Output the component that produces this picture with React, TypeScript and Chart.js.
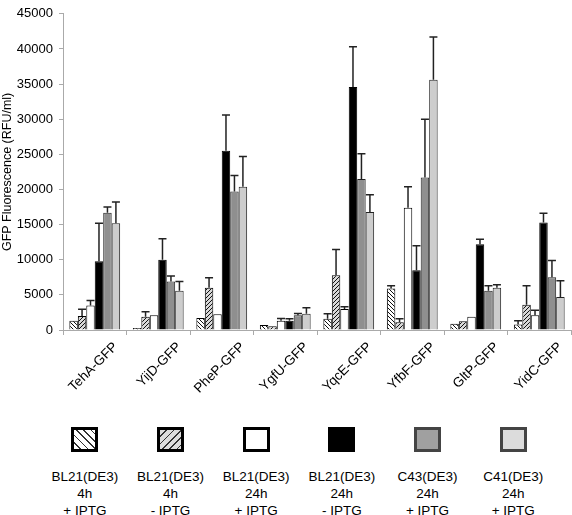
import React, { useEffect, useRef } from "react";
import { Chart, registerables } from "chart.js";

Chart.register(...registerables);

const FONT = '"Liberation Sans", Arial, Helvetica, sans-serif';

const categories = ["TehA-GFP", "YijD-GFP", "PheP-GFP", "YgfU-GFP", "YqcE-GFP", "YfbF-GFP", "GltP-GFP", "YidC-GFP"];

const seriesNames = [
  ["BL21(DE3)", "4h", "+ IPTG"],
  ["BL21(DE3)", "4h", "- IPTG"],
  ["BL21(DE3)", "24h", "+ IPTG"],
  ["BL21(DE3)", "24h", "- IPTG"],
  ["C43(DE3)", "24h", "+ IPTG"],
  ["C41(DE3)", "24h", "+ IPTG"],
];

const bl21_4h_plus = [1300, 300, 1700, 700, 1600, 5900, 900, 800];
const bl21_4h_minus = [2000, 1900, 6000, 550, 7800, 1100, 1250, 3600];
const bl21_24h_plus = [3500, 2100, 2250, 1300, 3000, 17400, 1900, 2100];
const bl21_24h_minus = [9800, 10000, 25500, 1300, 34600, 8500, 12200, 15300];
const c43_24h_plus = [16700, 6900, 19700, 2100, 21500, 21700, 5600, 7500];
const c41_24h_plus = [15200, 5600, 20400, 2300, 16800, 35600, 6000, 4700];

const err_bl21_4h_plus = [0, 0, 0, 0, 700, 400, 0, 500];
const err_bl21_4h_minus = [950, 700, 1450, 0, 3650, 500, 0, 2700];
const err_bl21_24h_plus = [700, 0, 0, 350, 300, 3000, 0, 700];
const err_bl21_24h_minus = [5400, 3000, 5100, 300, 5700, 3500, 700, 1300];
const err_c43_24h_plus = [800, 800, 2300, 250, 3600, 8300, 700, 2400];
const err_c41_24h_plus = [3000, 1300, 4300, 850, 2450, 6100, 450, 2300];

const yTicks = [0, 5000, 10000, 15000, 20000, 25000, 30000, 35000, 40000, 45000];

const seriesValues = [bl21_4h_plus, bl21_4h_minus, bl21_24h_plus, bl21_24h_minus, c43_24h_plus, c41_24h_plus];
const seriesErrors = [err_bl21_4h_plus, err_bl21_4h_minus, err_bl21_24h_plus, err_bl21_24h_minus, err_c43_24h_plus, err_c41_24h_plus];

function makePattern(bg: string, dir: "back" | "fwd"): CanvasPattern | string {
  const c = document.createElement("canvas");
  c.width = 4;
  c.height = 4;
  const x = c.getContext("2d");
  if (!x) return bg;
  x.fillStyle = bg;
  x.fillRect(0, 0, 4, 4);
  x.fillStyle = "#111";
  for (let i = 0; i < 4; i++) {
    const px = dir === "back" ? i : 3 - i;
    x.fillRect(px, i, 1, 1);
  }
  const p = x.createPattern(c, "repeat");
  return p || bg;
}

const legendBoxStyles: React.CSSProperties[] = [
  { background: "repeating-linear-gradient(45deg, #fff 0px, #fff 4px, #333 4px, #333 5.2px)", borderColor: "#000" },
  { background: "repeating-linear-gradient(135deg, #ddd 0px, #ddd 4px, #333 4px, #333 5.2px)", borderColor: "#000" },
  { background: "#fff", borderColor: "#000" },
  { background: "#000", borderColor: "#000" },
  { background: "#a0a0a0", borderColor: "#444" },
  { background: "#dcdcdc", borderColor: "#444" },
];

export default function App() {
  const ref = useRef<HTMLCanvasElement>(null);

  useEffect(() => {
    if (!ref.current) return;
    const fills: (CanvasPattern | string)[] = [
      makePattern("#ffffff", "back"),
      makePattern("#d8d8d8", "fwd"),
      "#ffffff",
      "#000000",
      "#8f8f8f",
      "#cdcdcd",
    ];
    const borders = ["#000", "#000", "#000", "#000", "#222", "#222"];

    const errorPlugin = {
      id: "errorBars",
      afterDatasetsDraw(chart: any) {
        const ctx = chart.ctx;
        const y = chart.scales.y;
        chart.data.datasets.forEach((ds: any, i: number) => {
          const meta = chart.getDatasetMeta(i);
          const errs = seriesErrors[i];
          meta.data.forEach((el: any, j: number) => {
            const e = errs[j];
            if (!e) return;
            const top = y.getPixelForValue(ds.data[j] + e);
            ctx.save();
            ctx.strokeStyle = "#222";
            ctx.lineWidth = 1.5;
            ctx.beginPath();
            ctx.moveTo(el.x, el.y);
            ctx.lineTo(el.x, top);
            ctx.moveTo(el.x - 4, top);
            ctx.lineTo(el.x + 4, top);
            ctx.stroke();
            ctx.restore();
          });
        });
      },
    };

    const chart = new Chart(ref.current, {
      type: "bar",
      data: {
        labels: categories,
        datasets: seriesValues.map((vals, i) => ({
          label: seriesNames[i].join(" "),
          data: vals,
          backgroundColor: fills[i] as any,
          borderColor: borders[i],
          borderWidth: 1,
          barPercentage: 1,
          categoryPercentage: 0.8,
        })),
      },
      options: {
        responsive: false,
        animation: false,
        devicePixelRatio: 1,
        layout: { padding: { top: 0, right: 1, left: 0, bottom: 0 } },
        plugins: {
          legend: { display: false },
          tooltip: { enabled: false },
        },
        scales: {
          x: {
            grid: {
              display: true,
              drawOnChartArea: false,
              drawTicks: true,
              tickLength: 5,
              color: "#aaa",
              offset: true,
            },
            border: { color: "#aaa" },
            ticks: {
              autoSkip: false,
              maxRotation: 45,
              minRotation: 45,
              color: "#000",
              padding: 4,
              labelOffset: 21,
              font: { family: FONT, size: 13.5 },
            },
            afterFit: (s: any) => {
              s.height = 90;
            },
          },
          y: {
            min: 0,
            max: 45000,
            afterBuildTicks: (s: any) => {
              s.ticks = yTicks.map((v) => ({ value: v }));
            },
            ticks: {
              color: "#000",
              padding: 6,
              font: { family: FONT, size: 13 },
              callback: (v: any) => String(v),
            },
            grid: {
              drawOnChartArea: false,
              drawTicks: true,
              tickLength: 4,
              color: "#aaa",
            },
            border: { color: "#aaa" },
            title: {
              display: true,
              text: "GFP Fluorescence (RFU/ml)",
              color: "#000",
              padding: 0,
              font: { family: FONT, size: 12.5 },
            },
            afterFit: (s: any) => {
              s.width = 63;
            },
          },
        },
      },
      plugins: [errorPlugin],
    });
    return () => chart.destroy();
  }, []);

  return (
    <div style={{ position: "absolute", left: 0, top: 0, width: 572, height: 515, background: "#fff", fontFamily: FONT }}>
      <canvas ref={ref} width={572} height={420} style={{ position: "absolute", left: 0, top: 0, width: 572, height: 420 }} />
      <div style={{ position: "absolute", left: 42, top: 427, width: 514, display: "flex" }}>
        {seriesNames.map((lines, i) => (
          <div key={i} style={{ flex: "1 1 0", textAlign: "center", color: "#000" }}>
            <div
              style={{
                display: "inline-block",
                width: 21,
                height: 19,
                borderWidth: 3,
                borderStyle: "solid",
                ...legendBoxStyles[i],
              }}
            />
            <div style={{ marginTop: 12, fontSize: 13.5, lineHeight: "17px" }}>
              {lines.map((l, k) => (
                <div key={k}>{l}</div>
              ))}
            </div>
          </div>
        ))}
      </div>
    </div>
  );
}
